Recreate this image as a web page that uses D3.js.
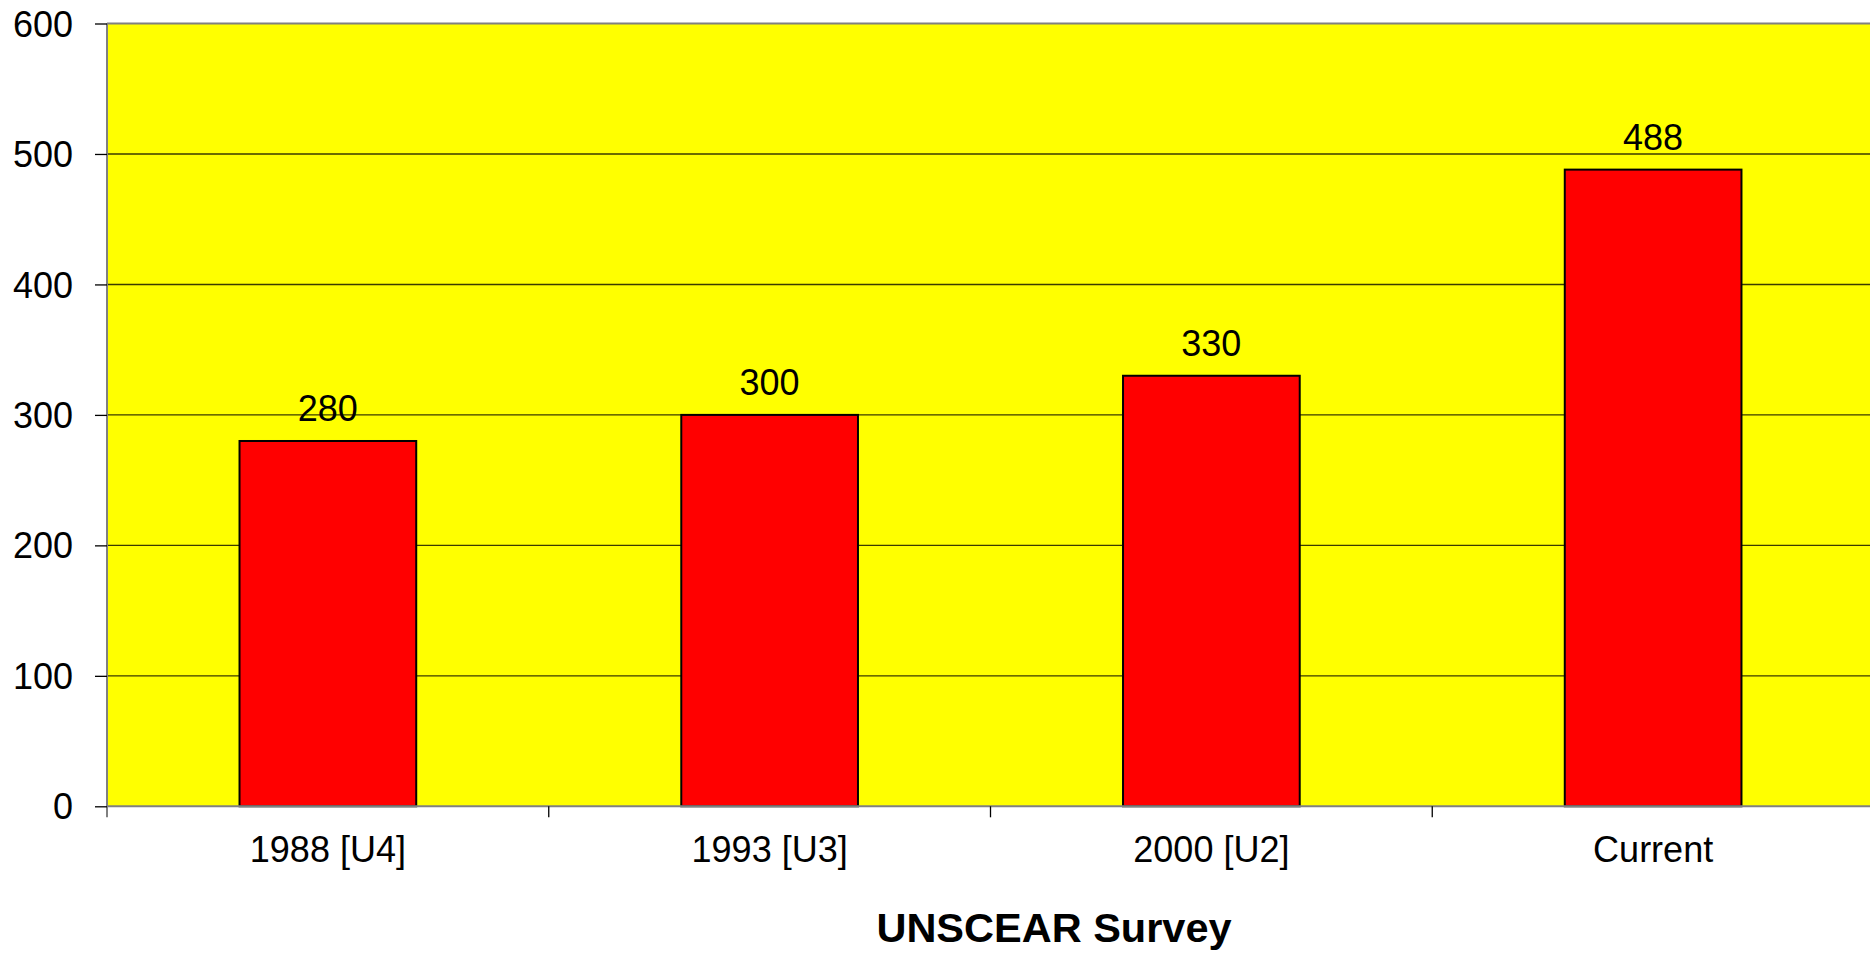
<!DOCTYPE html>
<html>
<head>
<meta charset="utf-8">
<script src="https://cdn.jsdelivr.net/npm/d3@7"></script>
<style>
  body { margin: 0; background: #fff; }
  text { font-family: "Liberation Sans", Arial, sans-serif; }
</style>
</head>
<body>
<div id="chart"></div>
<script>
var categories = ["1988 [U4]", "1993 [U3]", "2000 [U2]", "Current"];
var values = [280, 300, 330, 488];
var yTicks = [0, 100, 200, 300, 400, 500, 600];
var xTitle = "UNSCEAR Survey";

var width = 1870, height = 955;
var plotLeft = 107, plotRight = 1874, plotTop = 23.5, plotBottom = 806.3;

var svg = d3.select("#chart").append("svg")
	.attr("width", width)
	.attr("height", height);

var x = d3.scaleBand()
	.domain(categories)
	.range([plotLeft, plotRight])
	.padding(0);

var y = d3.scaleLinear()
	.domain([0, 600])
	.range([plotBottom, plotTop]);

var barWidth = x.bandwidth() * 0.4;

// plot background
svg.append("rect")
	.attr("x", plotLeft)
	.attr("y", plotTop)
	.attr("width", plotRight - plotLeft)
	.attr("height", plotBottom - plotTop)
	.attr("fill", "#ffff00");

// gridlines
svg.append("g").selectAll("line")
	.data(yTicks.slice(1, -1))
	.enter().append("line")
	.attr("x1", plotLeft)
	.attr("x2", plotRight)
	.attr("y1", function(d) { return y(d); })
	.attr("y2", function(d) { return y(d); })
	.attr("stroke", "#3a3a00")
	.attr("stroke-width", 1.4);

// top border
svg.append("line")
	.attr("x1", plotLeft).attr("x2", plotRight)
	.attr("y1", plotTop).attr("y2", plotTop)
	.attr("stroke", "#808080")
	.attr("stroke-width", 2);

// bars
svg.append("g").selectAll("rect")
	.data(values)
	.enter().append("rect")
	.attr("x", function(d, i) { return x(categories[i]) + (x.bandwidth() - barWidth) / 2; })
	.attr("y", function(d) { return y(d); })
	.attr("width", barWidth)
	.attr("height", function(d) { return plotBottom - y(d); })
	.attr("fill", "#ff0000")
	.attr("stroke", "#000")
	.attr("stroke-width", 2);

// value labels
svg.append("g").selectAll("text")
	.data(values)
	.enter().append("text")
	.attr("x", function(d, i) { return x(categories[i]) + x.bandwidth() / 2; })
	.attr("y", function(d) { return y(d) - 19.5; })
	.attr("text-anchor", "middle")
	.attr("font-size", 36)
	.attr("fill", "#000")
	.text(function(d) { return d; });

// y axis
var yAxis = svg.append("g")
	.attr("transform", "translate(" + plotLeft + ",0)")
	.call(d3.axisLeft(y).tickValues(yTicks).tickSize(12).tickPadding(22));
yAxis.select(".domain").attr("stroke", "#808080").attr("stroke-width", 2)
	.attr("d", "M0," + plotTop + "V" + (plotBottom + 11));
yAxis.selectAll(".tick line").attr("stroke", "#000").attr("stroke-width", 1.3);
yAxis.selectAll(".tick text")
	.attr("font-size", 36)
	.attr("font-family", "Liberation Sans, Arial, sans-serif")
	.attr("fill", "#000")
	.attr("dy", "0.35em");

// x axis
var xAxis = svg.append("g")
	.attr("transform", "translate(0," + plotBottom + ")")
	.call(d3.axisBottom(x).tickSize(0).tickPadding(56));
xAxis.select(".domain").attr("stroke", "#808080").attr("stroke-width", 2)
	.attr("d", "M" + plotLeft + ",0H" + plotRight);
xAxis.selectAll(".tick text")
	.attr("font-size", 36)
	.attr("font-family", "Liberation Sans, Arial, sans-serif")
	.attr("fill", "#000")
	.attr("dy", "0em");

// category boundary ticks
xAxis.append("g").selectAll("line")
	.data(categories.slice(1))
	.enter().append("line")
	.attr("x1", function(d) { return x(d); })
	.attr("x2", function(d) { return x(d); })
	.attr("y1", 0)
	.attr("y2", 11)
	.attr("stroke", "#000")
	.attr("stroke-width", 1.3);

// x axis title
svg.append("text")
	.attr("x", 1054)
	.attr("y", 942)
	.attr("text-anchor", "middle")
	.attr("font-size", 41.5)
	.attr("font-weight", "bold")
	.attr("fill", "#000")
	.text(xTitle);
</script>
</body>
</html>
